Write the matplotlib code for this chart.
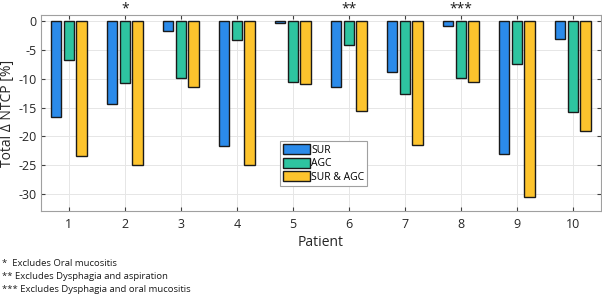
import numpy as np
import matplotlib
matplotlib.use("Agg")
import matplotlib.pyplot as plt

plt.rcParams['font.family'] = ['Open Sans', 'DejaVu Sans']
plt.rcParams['axes.unicode_minus'] = False

patients = [1, 2, 3, 4, 5, 6, 7, 8, 9, 10]
sur = [-16.6, -14.3, -1.7, -21.7, -0.3, -11.4, -8.8, -0.8, -23.0, -3.2]
agc = [-6.7, -10.7, -9.8, -3.3, -10.6, -4.2, -12.7, -9.8, -7.4, -15.8]
both = [-23.3, -25.0, -11.5, -25.0, -10.9, -15.6, -21.5, -10.6, -30.4, -19.0]
labels = ['SUR', 'AGC', 'SUR & AGC']
colors = ['#2b8bea', '#2ec4a0', '#fdc42d']
stars = {2: '*', 6: '**', 8: '***'}
notes = ['*  Excludes Oral mucositis',
         '** Excludes Dysphagia and aspiration',
         '*** Excludes Dysphagia and oral mucositis']

fig = plt.figure(figsize=(6.02, 2.96), dpi=100)
ax = fig.add_axes([0.068, 0.287, 0.930, 0.662])

x = np.array(patients)
w = 0.185
off = 0.227
for i, vals in enumerate([sur, agc, both]):
    ax.bar(x + (i - 1) * off, vals, w, color=colors[i], edgecolor='#1a1a1a',
           linewidth=1.0, label=labels[i], zorder=3)

ax.set_xlim(0.5, 10.5)
ax.set_ylim(-32.9, 1.0)
ax.set_xticks(patients)
ax.set_yticks([0, -5, -10, -15, -20, -25, -30])
ax.grid(True, color='#e6e6e6', linewidth=0.7, zorder=0)
ax.tick_params(direction='in', top=True, right=True, length=3, pad=5,
               colors='#404040', labelsize=9, labelcolor='#262626')
ax.tick_params(axis='y', pad=3)
for s in ax.spines.values():
    s.set_color('#a0a0a0')
    s.set_linewidth(0.8)

ax.set_xlabel('Patient', fontsize=10, color='#262626', labelpad=3)
ax.set_ylabel('Total \u0394 NTCP [%]', fontsize=10, color='#262626')
ax.yaxis.set_label_coords(-0.046, 0.5)

for p, s in stars.items():
    ax.text(p, 1.5, s, ha='center', va='baseline', fontsize=10,
            color='#1a1a1a', clip_on=False)

leg = ax.legend(loc='upper left', bbox_to_anchor=(0.427, 0.357), fontsize=7.5,
                handlelength=2.6, handleheight=1.1, handletextpad=0.1,
                borderpad=0.3, labelspacing=0.2, fancybox=False,
                borderaxespad=0, edgecolor='#a0a0a0', framealpha=1)
leg.get_frame().set_linewidth(0.8)

for i, n in enumerate(notes):
    fig.text(0.003, 1 - (264 + 12.7 * i) / 296, n, fontsize=6.8, va='center',
             color='#1a1a1a')

plt.savefig('out.png', dpi=100)
